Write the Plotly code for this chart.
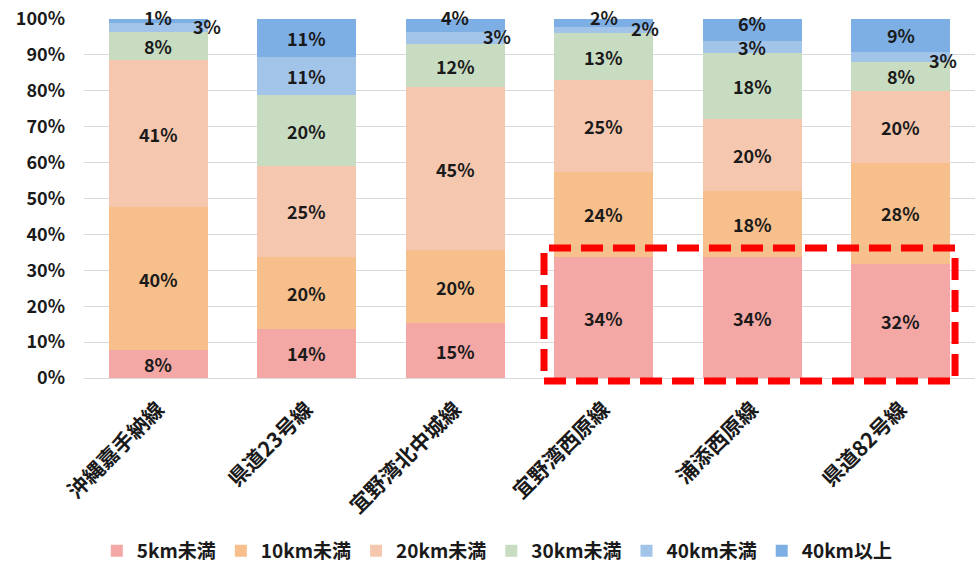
import plotly.graph_objects as go

categories = ["沖縄嘉手納線", "県道23号線", "宜野湾北中城線", "宜野湾西原線", "浦添西原線", "県道82号線"]
series_names = ["5km未満", "10km未満", "20km未満", "30km未満", "40km未満", "40km以上"]
v_5km = [7.7, 13.7, 15.3, 33.6, 33.6, 31.7]
v_10km = [39.9, 20.0, 20.3, 23.9, 18.4, 28.3]
v_20km = [40.9, 25.4, 45.4, 25.4, 20.1, 20.0]
v_30km = [7.9, 19.6, 12.0, 13.1, 18.4, 8.0]
v_40km_under = [2.6, 10.7, 3.4, 1.8, 3.4, 2.9]
v_40km_over = [1.0, 10.6, 3.6, 2.2, 6.1, 9.1]
y_ticks = [0, 10, 20, 30, 40, 50, 60, 70, 80, 90, 100]
y_tick_labels = ["0%", "10%", "20%", "30%", "40%", "50%", "60%", "70%", "80%", "90%", "100%"]

series_values = [v_5km, v_10km, v_20km, v_30km, v_40km_under, v_40km_over]
colors = ["#F4A8A5", "#F6BF8B", "#F5C7AE", "#C8DCC2", "#A2C4E9", "#7DAFE5"]

# label offsets (style) for crowded small segments: (series index, category index) -> (xshift, yshift)
label_shift = {
    (4, 0): (49, 1), (4, 2): (42, 2), (4, 3): (41, 2), (4, 5): (42, -3),
    (5, 0): (0, 4), (5, 2): (0, 8), (5, 3): (0, 6), (5, 4): (0, 7),
}

FONT = "Noto Sans CJK JP"
TXT = "#1a1a1a"
fig = go.Figure()
for name, vals, col in zip(series_names, series_values, colors):
    fig.add_trace(go.Bar(x=categories, y=vals, name=name, marker=dict(color=col, line=dict(width=0))))

annotations = []
cum = [0.0] * len(categories)
for si, vals in enumerate(series_values):
    for ci, v in enumerate(vals):
        center = cum[ci] + v / 2
        cum[ci] += v
        xs, ys = label_shift.get((si, ci), (0, 0))
        annotations.append(dict(
            x=categories[ci], y=center, xref="x", yref="y", text=f"{round(v)}%",
            showarrow=False, xshift=xs, yshift=ys,
            font=dict(family=FONT, size=18, color=TXT, weight="bold"),
        ))

fig.update_layout(
    width=979, height=569,
    margin=dict(l=84, r=4, t=15, b=191),
    barmode="stack", bargap=0.333,
    plot_bgcolor="white", paper_bgcolor="white",
    font=dict(family=FONT, size=18, color=TXT, weight="bold"),
    annotations=annotations,
    legend=dict(
        orientation="h", xref="container", yref="container",
        x=0.508, xanchor="center", y=0.032, yanchor="middle",
        font=dict(family=FONT, size=19, color=TXT, weight="bold"),
        traceorder="normal",
    ),
    shapes=[dict(
        type="rect", xref="paper", yref="paper", x0=0.5163, x1=0.9776, y0=-0.0083, y1=0.362,
        line=dict(color="#FF0000", width=7, dash="22px,10px"), layer="above",
    )],
)
fig.update_yaxes(
    range=[0, 100], tickvals=y_ticks, ticktext=y_tick_labels,
    showgrid=True, gridcolor="#D9D9D9", gridwidth=1,
    zeroline=True, zerolinecolor="#D9D9D9", zerolinewidth=1,
    showline=False, ticklabelstandoff=18,
    tickfont=dict(family=FONT, size=18, color=TXT, weight="bold"),
)
fig.update_xaxes(
    tickangle=-45, showline=False, showgrid=False,
    tickfont=dict(family=FONT, size=21, color=TXT, weight="bold"),
    ticklabelstandoff=14,
)

fig.write_html("out.html")
